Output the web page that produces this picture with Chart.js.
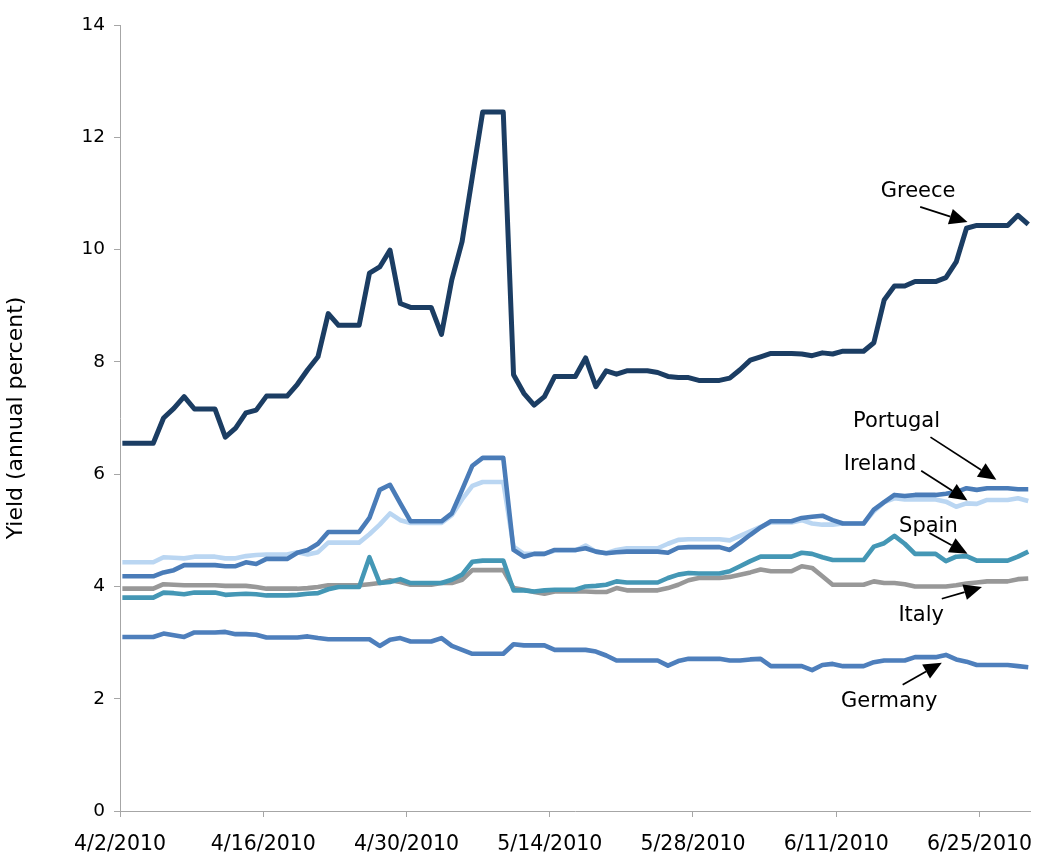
<!DOCTYPE html>
<html>
<head>
<meta charset="utf-8">
<script src="https://cdn.jsdelivr.net/npm/chart.js@4.4.1/dist/chart.umd.min.js"></script>
<style>
  html, body { margin: 0; padding: 0; background: #ffffff; }
  #wrap { width: 1048px; height: 855px; }
</style>
</head>
<body>
<div id="wrap"><canvas id="c" width="1048" height="855"></canvas></div>
<script>
// Day index 0 = 4/2/2010 ... 88 = 6/29/2010 (daily, weekend values carried forward)
const dayIndex = Array.from({length: 89}, (_, i) => i);

// Axis tick labels, one every 14 days starting 4/2/2010
const tickLabels = ['4/2/2010', '4/16/2010', '4/30/2010', '5/14/2010', '5/28/2010', '6/11/2010', '6/25/2010'];

const greece = [6.55,6.55,6.55,6.55,7.00,7.17,7.38,7.16,7.16,7.16,
  6.66,6.82,7.09,7.14,7.39,7.39,7.39,7.60,7.86,8.09,
  8.86,8.65,8.65,8.65,9.58,9.69,9.99,9.04,8.97,8.97,
  8.97,8.49,9.46,10.14,11.30,12.45,12.45,12.45,7.77,7.44,
  7.23,7.38,7.74,7.74,7.74,8.07,7.56,7.84,7.78,7.84,
  7.84,7.84,7.81,7.74,7.72,7.72,7.67,7.67,7.67,7.71,
  7.86,8.03,8.09,8.15,8.15,8.15,8.14,8.11,8.16,8.14,
  8.19,8.19,8.19,8.34,9.10,9.35,9.35,9.43,9.43,9.43,
  9.50,9.78,10.38,10.43,10.43,10.43,10.43,10.61,10.45];

const ireland = [4.43,4.43,4.43,4.43,4.52,4.51,4.50,4.53,4.53,4.53,
  4.50,4.50,4.54,4.56,4.57,4.57,4.57,4.61,4.57,4.61,
  4.78,4.78,4.78,4.78,4.93,5.10,5.30,5.18,5.13,5.13,
  5.13,5.13,5.27,5.55,5.79,5.86,5.86,5.86,4.71,4.58,
  4.58,4.58,4.64,4.64,4.64,4.73,4.62,4.59,4.65,4.68,
  4.68,4.68,4.68,4.76,4.83,4.84,4.84,4.84,4.84,4.82,
  4.90,4.98,5.06,5.14,5.14,5.14,5.18,5.12,5.10,5.10,
  5.12,5.12,5.12,5.34,5.50,5.57,5.55,5.55,5.55,5.55,
  5.51,5.42,5.48,5.47,5.54,5.54,5.54,5.57,5.52];

const portugal = [4.18,4.18,4.18,4.18,4.25,4.29,4.38,4.38,4.38,4.38,
  4.36,4.36,4.43,4.40,4.49,4.49,4.49,4.60,4.65,4.76,
  4.97,4.97,4.97,4.97,5.22,5.72,5.81,5.48,5.16,5.16,
  5.16,5.16,5.30,5.72,6.15,6.29,6.29,6.29,4.65,4.53,
  4.58,4.58,4.65,4.65,4.65,4.68,4.62,4.59,4.61,4.62,
  4.62,4.62,4.62,4.60,4.69,4.70,4.70,4.70,4.70,4.65,
  4.78,4.92,5.05,5.16,5.16,5.16,5.22,5.24,5.26,5.18,
  5.12,5.12,5.12,5.37,5.50,5.63,5.61,5.63,5.63,5.63,
  5.65,5.68,5.75,5.72,5.75,5.75,5.75,5.73,5.73];

const italy = [3.96,3.96,3.96,3.96,4.04,4.03,4.02,4.02,4.02,4.02,
  4.01,4.01,4.01,3.99,3.96,3.96,3.96,3.96,3.97,3.99,
  4.02,4.02,4.02,4.02,4.04,4.06,4.11,4.08,4.03,4.03,
  4.03,4.06,4.06,4.12,4.29,4.29,4.29,4.29,3.97,3.94,
  3.90,3.87,3.91,3.91,3.91,3.91,3.90,3.90,3.97,3.93,
  3.93,3.93,3.93,3.97,4.03,4.11,4.15,4.15,4.15,4.17,
  4.21,4.25,4.30,4.27,4.27,4.27,4.36,4.33,4.18,4.03,
  4.03,4.03,4.03,4.09,4.06,4.06,4.04,4.00,4.00,4.00,
  4.00,4.02,4.05,4.07,4.09,4.09,4.09,4.13,4.14];

const spain = [3.80,3.80,3.80,3.80,3.89,3.88,3.86,3.89,3.89,3.89,
  3.85,3.86,3.87,3.86,3.84,3.84,3.84,3.85,3.87,3.88,
  3.95,3.99,3.99,3.99,4.52,4.06,4.08,4.13,4.06,4.06,
  4.06,4.06,4.12,4.21,4.44,4.46,4.46,4.46,3.93,3.93,
  3.91,3.93,3.94,3.94,3.94,4.00,4.01,4.03,4.09,4.07,
  4.07,4.07,4.07,4.15,4.21,4.24,4.23,4.23,4.23,4.27,
  4.36,4.45,4.53,4.53,4.53,4.53,4.60,4.58,4.52,4.47,
  4.47,4.47,4.47,4.71,4.77,4.90,4.76,4.58,4.58,4.58,
  4.45,4.53,4.54,4.46,4.46,4.46,4.46,4.53,4.62];

const germany = [3.10,3.10,3.10,3.10,3.16,3.13,3.10,3.18,3.18,3.18,
  3.19,3.15,3.15,3.14,3.09,3.09,3.09,3.09,3.11,3.08,
  3.06,3.06,3.06,3.06,3.06,2.94,3.05,3.08,3.02,3.02,
  3.02,3.08,2.94,2.87,2.80,2.80,2.80,2.80,2.97,2.95,
  2.95,2.95,2.87,2.87,2.87,2.87,2.84,2.77,2.68,2.68,
  2.68,2.68,2.68,2.59,2.67,2.71,2.71,2.71,2.71,2.68,
  2.68,2.70,2.71,2.58,2.58,2.58,2.58,2.51,2.60,2.62,
  2.58,2.58,2.58,2.65,2.68,2.68,2.68,2.74,2.74,2.74,
  2.78,2.70,2.66,2.60,2.60,2.60,2.60,2.58,2.56];

const seriesNames = ['Greece', 'Portugal', 'Ireland', 'Spain', 'Italy', 'Germany'];

// Annotation labels with arrows, in data units (day index, yield)
const labelNames = ['Greece', 'Portugal', 'Ireland', 'Spain', 'Italy', 'Germany'];
const labelTextAt = [[77.3, 11.03], [75.2, 6.94], [73.6, 6.17], [78.3, 5.07], [77.6, 3.48], [74.5, 1.95]];
const arrowFrom = [[77.5, 10.76], [78.5, 6.66], [77.6, 6.06], [78.4, 4.95], [79.6, 3.78], [75.8, 2.25]];
const arrowTo = [[82.1, 10.49], [84.9, 5.90], [82.1, 5.53], [82.1, 4.58], [83.5, 3.99], [79.6, 2.64]];

const FONT = '"DejaVu Sans", Verdana, sans-serif';

function pts(arr) { return arr.map((v, i) => ({x: dayIndex[i], y: v})); }

const annotationPlugin = {
  id: 'arrows',
  afterDatasetsDraw(chart) {
    const ctx = chart.ctx, xs = chart.scales.x, ys = chart.scales.y;
    ctx.save();
    ctx.font = '21px ' + FONT;
    ctx.fillStyle = '#000';
    ctx.strokeStyle = '#000';
    ctx.textAlign = 'center';
    ctx.textBaseline = 'middle';
    for (let i = 0; i < labelNames.length; i++) {
      const tx = xs.getPixelForValue(labelTextAt[i][0]), ty = ys.getPixelForValue(labelTextAt[i][1]);
      ctx.fillText(labelNames[i], tx, ty);
      const x1 = xs.getPixelForValue(arrowFrom[i][0]), y1 = ys.getPixelForValue(arrowFrom[i][1]);
      const x2 = xs.getPixelForValue(arrowTo[i][0]), y2 = ys.getPixelForValue(arrowTo[i][1]);
      const ang = Math.atan2(y2 - y1, x2 - x1);
      const hl = 18, hw = 8;
      const bx = x2 - hl * Math.cos(ang), by = y2 - hl * Math.sin(ang);
      ctx.lineWidth = 1.7;
      ctx.beginPath(); ctx.moveTo(x1, y1); ctx.lineTo(bx, by); ctx.stroke();
      ctx.beginPath();
      ctx.moveTo(x2, y2);
      ctx.lineTo(bx + hw * Math.sin(ang), by - hw * Math.cos(ang));
      ctx.lineTo(bx - hw * Math.sin(ang), by + hw * Math.cos(ang));
      ctx.closePath(); ctx.fill();
    }
    ctx.restore();
  }
};

const ds = (label, data, color, width) => ({
  label, data: pts(data), borderColor: color, backgroundColor: color,
  borderWidth: width, pointRadius: 0, tension: 0, fill: false,
  borderJoinStyle: 'round', borderCapStyle: 'butt', xAxisID: 'x', yAxisID: 'y'
});

new Chart(document.getElementById('c'), {
  type: 'line',
  data: {
    datasets: [
      ds(seriesNames[0], greece, '#1B3D63', 5),
      ds(seriesNames[1], portugal, '#4A7CB8', 4.6),
      ds(seriesNames[2], ireland, '#BAD6F2', 4.6),
      ds(seriesNames[3], spain, '#4497B5', 4.6),
      ds(seriesNames[4], italy, '#989898', 4.6),
      ds(seriesNames[5], germany, '#4E7FBC', 4.6)
    ]
  },
  options: {
    responsive: false,
    animation: false,
    devicePixelRatio: 1,
    layout: { padding: { top: 25, right: 15, left: 0, bottom: 0 } },
    plugins: { legend: { display: false }, tooltip: { enabled: false } },
    scales: {
      x: {
        type: 'linear', display: false, min: -0.23, max: 88.23
      },
      xd: {
        type: 'linear', position: 'bottom', min: 0, max: 89,
        afterFit(s) { s.height = 44; },
        afterBuildTicks(s) { s.ticks = tickLabels.map((t, k) => ({value: k * 14})); },
        grid: { drawOnChartArea: false, drawTicks: true, tickLength: 6, tickColor: '#A6A6A6', color: '#A6A6A6' },
        border: { display: true, color: '#A6A6A6', width: 1 },
        ticks: {
          autoSkip: false, maxRotation: 0, padding: 15, color: '#000',
          font: { family: FONT, size: 20.5 },
          callback: (v) => tickLabels[Math.round(v / 14)]
        }
      },
      y: {
        type: 'linear', min: 0, max: 14,
        afterFit(s) { s.width = 120; },
        grid: { drawOnChartArea: false, drawTicks: true, tickLength: 6, tickColor: '#A6A6A6', color: '#A6A6A6' },
        border: { display: true, color: '#A6A6A6', width: 1 },
        ticks: { stepSize: 2, padding: 9, color: '#000', font: { family: FONT, size: 18.5 } },
        title: { display: true, text: 'Yield (annual percent)', color: '#000', font: { family: FONT, size: 22 }, padding: { top: 3, bottom: 0 } }
      }
    }
  },
  plugins: [annotationPlugin]
});
</script>
</body>
</html>
